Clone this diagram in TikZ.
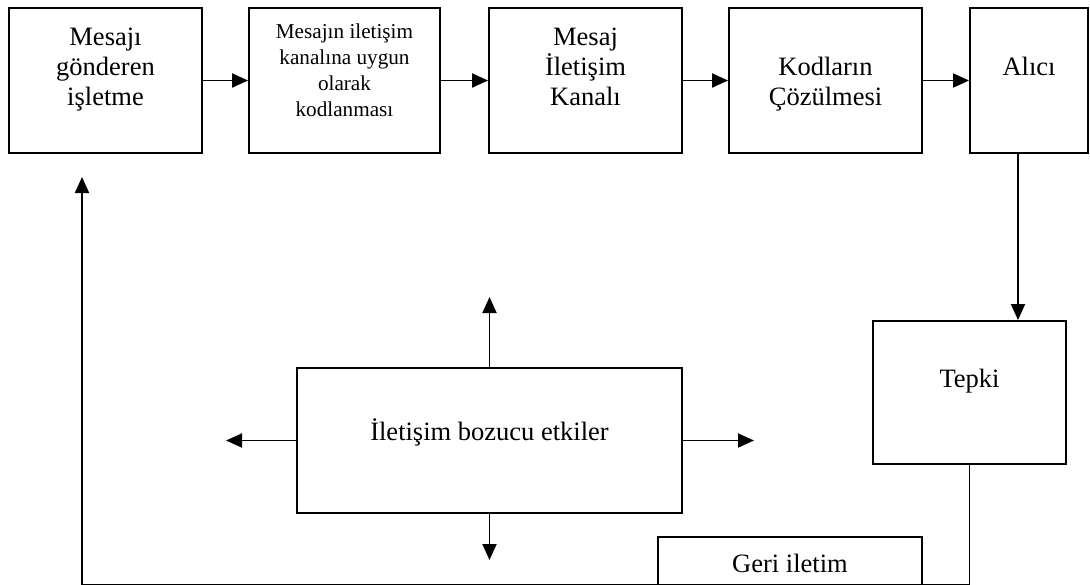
\documentclass[tikz,border=0pt]{standalone}
\usepackage{fontspec}
\setmainfont{Liberation Serif}
\usetikzlibrary{arrows.meta}
\newcommand{\mlines}[1]{\begin{tabular}[t]{@{}c@{}}#1\end{tabular}}
\tikzset{
  box/.style={draw=black, line width=1.9pt, fill=none, inner sep=0pt},
  bigtxt/.style={font=\fontsize{26.5}{30}\selectfont, inner sep=0pt, anchor=base},
  smalltxt/.style={font=\fontsize{21.2}{26}\selectfont, inner sep=0pt, anchor=base},
  conn/.style={line width=1.9pt, draw=black},
  arr/.style={conn, -{Triangle[length=16pt, width=14pt]}}
}
\begin{document}
\begin{tikzpicture}[x=1pt, y=-1pt]
\useasboundingbox (0,0) rectangle (1090,584);
\clip (0,0) rectangle (1090,584);
\fill[white] (0,0) rectangle (1090,584);
% top row boxes
\node[box, minimum width=193pt, minimum height=145pt] (b1) at (105.5,80.5) {};
\node[box, minimum width=191pt, minimum height=145pt] (b2) at (344.5,80.5) {};
\node[box, minimum width=193pt, minimum height=145pt] (b3) at (585.5,80.5) {};
\node[box, minimum width=193pt, minimum height=145pt] (b4) at (825.5,80.5) {};
\node[box, minimum width=118pt, minimum height=145pt] (b5) at (1029,80.5) {};
% lower boxes
\node[box, minimum width=193pt, minimum height=143pt] (tepki) at (969.5,392.5) {};
\node[box, minimum width=385pt, minimum height=145pt] (noise) at (489.5,440.5) {};
\node[box, minimum width=264pt, minimum height=80pt] (geri) at (790,577) {};
% texts
\node[bigtxt] (t1) at (105.5,45) {\mlines{Mesajı\\gönderen\\işletme}};
\node[smalltxt] (t2) at (344.5,38) {\mlines{Mesajın iletişim\\kanalına uygun\\olarak\\kodlanması}};
\node[bigtxt] (t3) at (585.5,45) {\mlines{Mesaj\\İletişim\\Kanalı}};
\node[bigtxt] (t4) at (825.5,75) {\mlines{Kodların\\Çözülmesi}};
\node[bigtxt] (t5) at (1029,75) {Alıcı};
\node[bigtxt] (t6) at (969.5,387) {Tepki};
\node[bigtxt] (t7) at (489.5,440) {İletişim bozucu etkiler};
\node[bigtxt] (t8) at (790,572) {Geri iletim};
% top row arrows
\draw[arr] (b1.east) -- (b2.west);
\draw[arr] (b2.east) -- (b3.west);
\draw[arr] (b3.east) -- (b4.west);
\draw[arr] (b4.east) -- (b5.west);
% Alici -> Tepki
\draw[arr] ([xshift=-11pt]b5.south) -- ([xshift=-11pt]b5.south |- tepki.north);
% feedback loop
\coordinate (fbR) at (969.5,584.6);
\coordinate (fbL) at (82,584.6);
\coordinate (fbT) at (82,177);
\draw[arr] (tepki.south) -- (fbR) -- (fbL) -- (fbT);
% noise arrows
\coordinate (nUp) at (489.5,297);
\coordinate (nDown) at (489.5,560);
\coordinate (nLeft) at (226,440.5);
\coordinate (nRight) at (754,440.5);
\draw[arr] (noise.north) -- (nUp);
\draw[arr] (noise.south) -- (nDown);
\draw[arr] (noise.west) -- (nLeft);
\draw[arr] (noise.east) -- (nRight);
\end{tikzpicture}
\end{document}
